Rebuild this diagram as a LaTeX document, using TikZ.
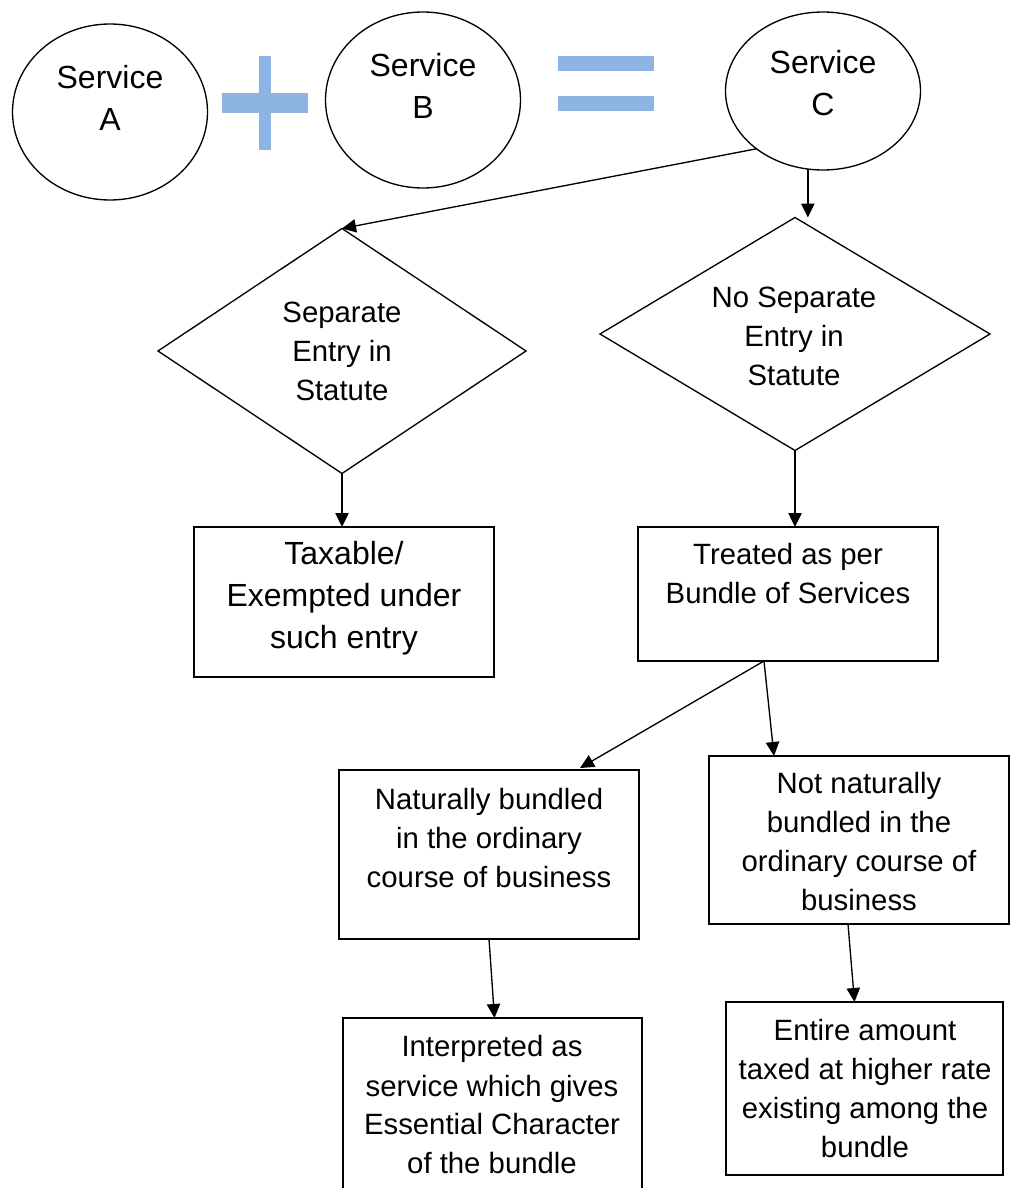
\documentclass[tikz,border=0pt]{standalone}
\usepackage{fontspec}
\setmainfont{Liberation Sans}
\usetikzlibrary{shapes.geometric,arrows.meta,calc}
\definecolor{opblue}{HTML}{8EB4E3}
\begin{document}
\begin{tikzpicture}[x=0.75pt,y=-0.75pt,
  every node/.style={inner sep=0pt,outer sep=0pt},
  line/.style={draw=black,line width=1pt},
  oval/.style={line,ellipse},
  decision/.style={line,diamond},
  stepbox/.style={line,rectangle},
  bigtxt/.style={align=center,font=\fontsize{24}{31.5}\selectfont},
  txt/.style={align=center,font=\fontsize{22}{29.25}\selectfont},
  arr/.style={line,-{Triangle[length=10.5pt,width=10pt]}},
  op/.style={fill=opblue}]
\useasboundingbox (0,0) rectangle (1013,1188);
\begin{scope}
\clip (0,0) rectangle (1013,1188);
% service ellipses
\node[oval,minimum width=146.25pt,minimum height=132pt] (A) at (110,112) {};
\node[oval,minimum width=146.25pt,minimum height=132pt] (B) at (423,100) {};
\node[oval,minimum width=146.25pt,minimum height=118.5pt] (C) at (823,91) {};
\node[bigtxt] (Atxt) at (110,98) {Service\\A};
\node[bigtxt] (Btxt) at (423,85.5) {Service\\B};
\node[bigtxt] (Ctxt) at (823,83) {Service\\C};
% plus and equals signs
\fill[op] (259,56) rectangle (271,150);
\fill[op] (222,93) rectangle (308,113);
\fill[op] (558,56) rectangle (654,71);
\fill[op] (558,96) rectangle (654,111);
% diamonds
\node[decision,minimum width=276pt,minimum height=183.75pt] (D1) at (342,351) {};
\node[decision,minimum width=292.5pt,minimum height=174.75pt] (D2) at (795,334) {};
\node[txt] (D1txt) at (342,351) {Separate\\Entry in\\Statute};
\node[txt] (D2txt) at (794,336) {No Separate\\Entry in\\Statute};
% boxes
\node[stepbox,minimum width=225pt,minimum height=112.5pt] (B1) at (344,602) {};
\node[stepbox,minimum width=225pt,minimum height=100.5pt] (B2) at (788,594) {};
\node[stepbox,minimum width=225pt,minimum height=126.75pt] (B3) at (489,854.5) {};
\node[stepbox,minimum width=225pt,minimum height=126pt] (B4) at (859,840) {};
\node[stepbox,minimum width=224.25pt,minimum height=138pt] (B5) at (492.5,1110) {};
\node[stepbox,minimum width=207.75pt,minimum height=129.75pt] (B6) at (864.5,1088.5) {};
\node[bigtxt] (B1txt) at (344,598) {Taxable/\\Exempted under\\such entry};
\node[txt] (B2txt) at (788,574) {Treated as per\\Bundle of Services};
\node[txt] (B3txt) at (489,838) {Naturally bundled\\in the ordinary\\course of business};
\node[txt] (B4txt) at (859,841.5) {Not naturally\\bundled in the\\ordinary course of\\business};
\node[txt] (B5txt) at (492,1105) {Interpreted as\\service which gives\\Essential Character\\of the bundle};
\node[txt] (B6txt) at (865,1088.5) {Entire amount\\taxed at higher rate\\existing among the\\bundle};
% connectors
\draw[arr] (C.221) -- (D1.north);
\draw[arr] (C.259) -- (C.259 |- D2.north);
\draw[arr] (D1.south) -- (D1.south |- B1.north);
\draw[arr] (D2.south) -- (D2.south |- B2.north);
\coordinate (split) at ($(B2.south)+(-24,0)$);
\draw[arr] (split) -- ($(B3.north)+(91,-2)$);
\draw[arr] (split) -- ($(B4.north)+(-85,0)$);
\draw[arr] (B3.south) -- ($(B5.north)+(2,0)$);
\draw[arr] ($(B4.south)+(-11,0)$) -- ($(B6.north)+(-10,0)$);
\end{scope}
\end{tikzpicture}
\end{document}
